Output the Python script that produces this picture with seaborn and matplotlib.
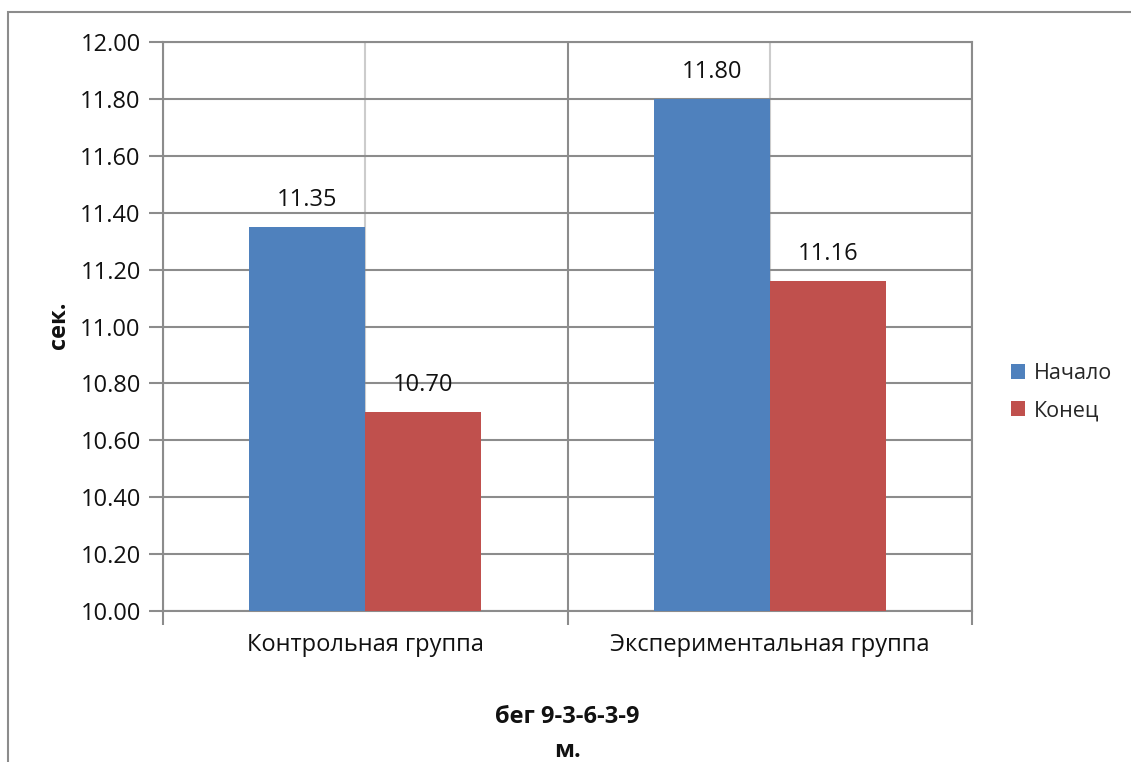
import matplotlib
matplotlib.use("Agg")
import matplotlib.pyplot as plt
from matplotlib.patches import Rectangle
from matplotlib.ticker import FixedLocator, FormatStrFormatter
import seaborn as sns
import pandas as pd

groups = ["Контрольная группа", "Экспериментальная группа"]
series = ["Начало", "Конец"]
start_values = [11.35, 11.80]
end_values = [10.70, 11.16]
y_ticks = [10.0, 10.2, 10.4, 10.6, 10.8, 11.0, 11.2, 11.4, 11.6, 11.8, 12.0]
y_label = "сек."
x_label = "бег 9-3-6-3-9\nм."

colors = ["#4F81BD", "#C0504D"]
grid_color = "#8c8c8c"
light_grid = "#cccccc"
text_color = "#111111"
fs = 17

df = pd.DataFrame({
    "group": groups * 2,
    "series": [series[0]] * len(groups) + [series[1]] * len(groups),
    "value": start_values + end_values,
})

sns.set_theme(style="white")
plt.rcParams["font.family"] = ["Open Sans", "DejaVu Sans"]

fig = plt.figure(figsize=(11.31, 7.62), dpi=100)
ax = fig.add_axes([163 / 1131, 1 - 611 / 762, (972 - 163) / 1131, (611 - 42) / 762])

sns.barplot(data=df, x="group", y="value", hue="series", order=groups,
            hue_order=series, palette=colors, width=0.574, gap=0,
            saturation=1, ax=ax, legend=True, linewidth=0, zorder=3)

ax.set_ylim(10.0, 12.0)
ax.set_xlim(-0.5, 1.5)
ax.yaxis.set_major_locator(FixedLocator(y_ticks))
ax.yaxis.set_major_formatter(FormatStrFormatter("%.2f"))

# horizontal grid, dark category separators and light lines at category centres
ax.set_axisbelow(True)
ax.yaxis.grid(True, color=grid_color, linewidth=1.5)
ax.xaxis.set_minor_locator(FixedLocator([-0.5, 0.5, 1.5]))
ax.xaxis.grid(True, which="minor", color=grid_color, linewidth=1.5)
ax.xaxis.grid(True, which="major", color=light_grid, linewidth=1.5)

for side in ["left", "bottom", "right", "top"]:
    ax.spines[side].set_visible(True)
    ax.spines[side].set_color(grid_color)
    ax.spines[side].set_linewidth(1.5)

ax.tick_params(axis="y", which="major", direction="out", length=10, width=1.5,
               color=grid_color, labelsize=fs, pad=6, left=True)
ax.tick_params(axis="x", which="major", length=0, labelsize=fs, pad=16)
ax.tick_params(axis="x", which="minor", direction="out", length=10, width=1.5,
               color=grid_color, bottom=True)
for lbl in ax.get_yticklabels() + ax.get_xticklabels():
    lbl.set_color(text_color)

ax.set_xlabel("")
ax.set_ylabel("")
fig.text(59 / 1131, 1 - 325 / 762, y_label, rotation=90, fontsize=fs,
         fontweight="bold", ha="center", va="center", color=text_color)
fig.text(567 / 1131, 1 - 734 / 762, x_label, fontsize=fs, fontweight="bold",
         ha="center", va="center", color=text_color, linespacing=1.6)

# value labels above each bar
for container in ax.containers:
    ax.bar_label(container, fmt="%.2f", padding=11, fontsize=fs, color=text_color)

handles, labels = ax.get_legend_handles_labels()
ax.legend_.remove()
fig.legend(handles, labels, loc="center left",
           bbox_to_anchor=(992 / 1131, 1 - 392 / 762), frameon=False,
           fontsize=15.5, handlelength=0.65, handleheight=0.65,
           handletextpad=0.4, labelspacing=0.75)

# outer chart frame
fig.patches.append(Rectangle((8 / 1131, -0.1), 1.2, 0.1 + 1 - 12 / 762,
                             transform=fig.transFigure, fill=False,
                             edgecolor="#8c8c8c", linewidth=1.5))

fig.savefig("out.png", dpi=100, facecolor="white")
